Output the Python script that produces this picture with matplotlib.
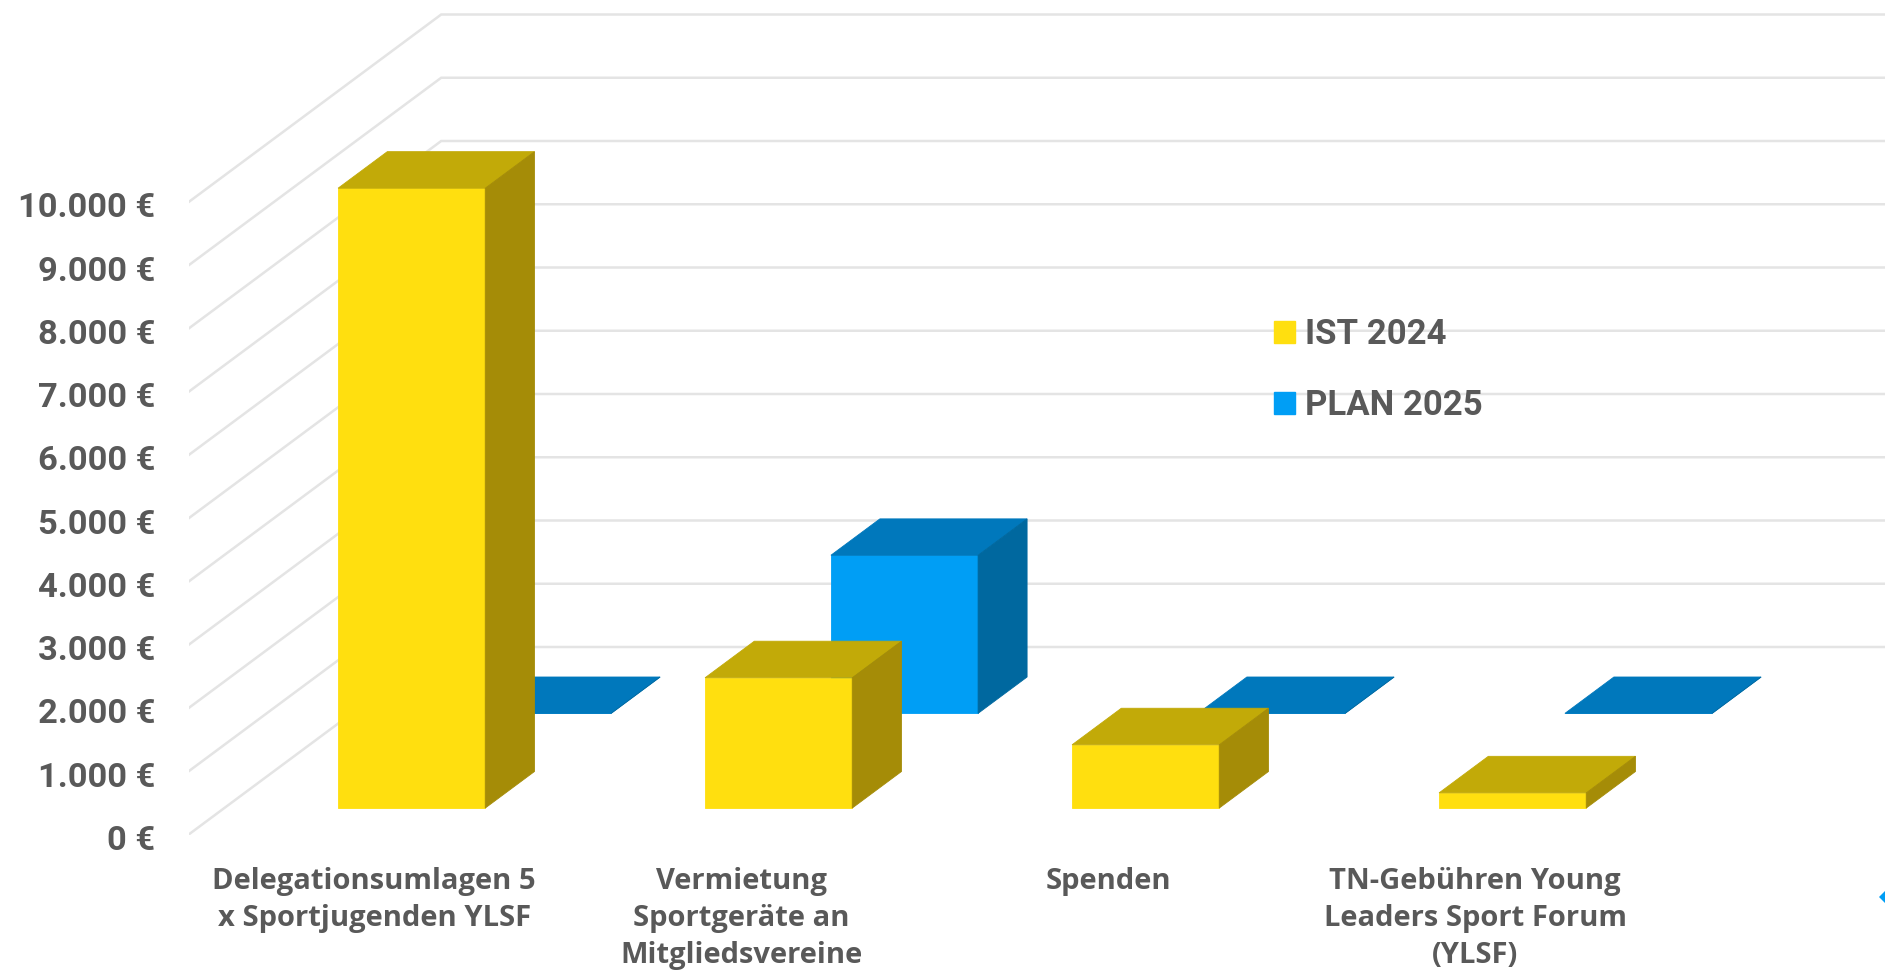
import matplotlib
matplotlib.use("Agg")
import matplotlib.pyplot as plt
from matplotlib.patches import Patch
from matplotlib.transforms import ScaledTranslation

categories = ["Delegationsumlagen 5\nx Sportjugenden YLSF",
              "Vermietung\nSportgeräte an\nMitgliedsvereine",
              "Spenden",
              "TN-Gebühren Young\nLeaders Sport Forum\n(YLSF)"]
ist_2024 = [9800, 2060, 1000, 240]
plan_2025 = [0, 2500, 0, 0]
y_ticks = list(range(0, 11000, 1000))
y_tick_labels = ["0 €", "1.000 €", "2.000 €", "3.000 €", "4.000 €", "5.000 €",
                 "6.000 €", "7.000 €", "8.000 €", "9.000 €", "10.000 €"]
series_names = ["IST 2024", "PLAN 2025"]

W, H = 1885, 972
LEFT, BASE = 188.7, 834.5
PX_PER_UNIT, PX_PER_1000 = 367.0, 63.25
DEPTH_X, DEPTH_Y = 252.5 / PX_PER_UNIT, 187.5 / PX_PER_1000 * 1000

TEXT = "#595959"
GRID = "#E4E4E4"
YELLOW = ("#FFDF0F", "#C2AA08", "#A58C07")
BLUE = ("#009EF5", "#0078BC", "#00689F")

fig = plt.figure(figsize=(W / 100, H / 100), dpi=100)
ax = fig.add_axes([LEFT / W, (H - BASE) / H, (W - LEFT) / W, BASE / H])
ax.set_xlim(-0.5, -0.5 + (W - LEFT) / PX_PER_UNIT)
ax.set_ylim(0, BASE / PX_PER_1000 * 1000)
for s in ax.spines.values():
    s.set_visible(False)


def pt(x, v, d):
    return x + DEPTH_X * d, v + DEPTH_Y * d


def poly(points, color, z):
    xs, ys = zip(*[pt(*p) for p in points])
    ax.fill(xs, ys, color=color, lw=0.6, zorder=z)


def bar3d(x, value, d0, d1, colors, z):
    hw = 0.2005
    l, r = x - hw, x + hw
    poly([(l, 0, d0), (r, 0, d0), (r, value, d0), (l, value, d0)], colors[0], z)
    poly([(l, value, d0), (r, value, d0), (r, value, d1), (l, value, d1)], colors[1], z)
    poly([(r, 0, d0), (r, 0, d1), (r, value, d1), (r, value, d0)], colors[2], z)


# gridlines: wall + side wall
for v in y_ticks:
    x0, y0 = pt(-0.5, v, 0)
    x1, y1 = pt(-0.5, v, 1)
    x2, y2 = pt(6, v, 1)
    ax.plot([x0, x1, x2], [y0, y1, y2], color=GRID, lw=1.8, zorder=1,
            solid_joinstyle="miter")

for i, val in enumerate(plan_2025):
    bar3d(i + 0.006, val, 0.646, 0.84, BLUE, 2 + i * 0.1)
for i, val in enumerate(ist_2024):
    bar3d(i + 0.0105, val, 0.141, 0.336, YELLOW, 3 + i * 0.1)

ax.set_yticks(y_ticks, y_tick_labels, family="Roboto", weight="bold",
              fontsize=24.8, color=TEXT)
ax.set_xticks(range(len(categories)), categories, family="Open Sans", weight="bold",
              fontsize=21, color=TEXT, linespacing=1.37, va="top")
ax.tick_params(axis="y", length=0, pad=24)
ax.tick_params(axis="x", length=0, pad=23.5)
for lab in ax.get_xticklabels():
    lab.set_transform(lab.get_transform() + ScaledTranslation(1.5 / 72, 0, fig.dpi_scale_trans))
for lab in ax.get_yticklabels():
    lab.set_transform(lab.get_transform() + ScaledTranslation(0, -2 / 72, fig.dpi_scale_trans))

handles = [Patch(color=YELLOW[0]), Patch(color=BLUE[0])]
leg = ax.legend(handles, series_names, loc="upper left",
                frameon=False, prop={"family": "Roboto", "weight": "bold", "size": 25},
                labelcolor=TEXT, handlelength=0.6, handleheight=0.6,
                handletextpad=0.28, labelspacing=1.08, borderpad=0, borderaxespad=0)
leg.set_bbox_to_anchor((1274 / W, 1 - 318.5 / H), transform=fig.transFigure)

# small marker cut by the right edge of the picture
ax.plot([(1895 - LEFT) / PX_PER_UNIT - 0.5], [(BASE - 897) / PX_PER_1000 * 1000],
        marker="D", ms=16, color=BLUE[0], mew=0, clip_on=False, zorder=5)

fig.savefig("out.png", dpi=100)
